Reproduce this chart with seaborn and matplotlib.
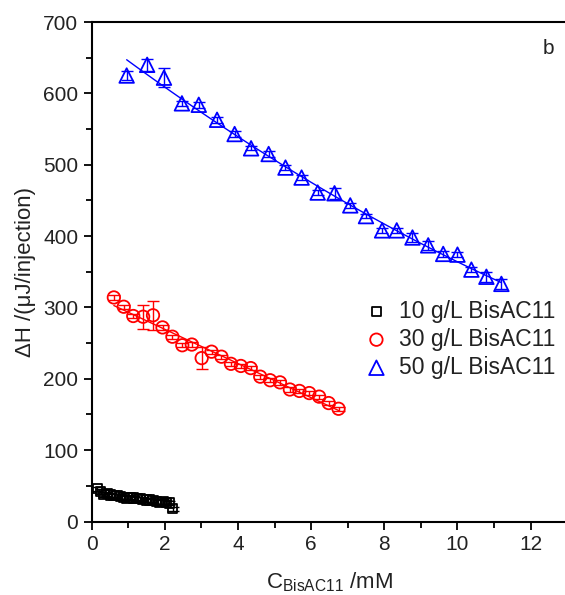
import numpy as np
import pandas as pd
import matplotlib
matplotlib.use("Agg")
import matplotlib.pyplot as plt
import seaborn as sns
from matplotlib.ticker import MultipleLocator

# ---- data ----
x10 = [0.16, 0.25, 0.34, 0.43, 0.52, 0.61, 0.70, 0.79, 0.88, 0.97, 1.06, 1.15,
       1.24, 1.33, 1.41, 1.50, 1.59, 1.68, 1.77, 1.86, 1.95, 2.04, 2.13, 2.22]
y10 = [46, 42, 38, 39, 37, 36, 36, 35, 34, 33, 34, 33,
       32, 32, 31, 30, 30, 29, 28, 27, 28, 27, 26, 18]
e10 = [3] * 24

x30 = [0.61, 0.88, 1.14, 1.41, 1.68, 1.94, 2.21, 2.48, 2.74, 3.01, 3.28, 3.55,
       3.81, 4.08, 4.35, 4.61, 4.88, 5.15, 5.42, 5.68, 5.95, 6.22, 6.48, 6.75]
y30 = [314, 301, 288, 287, 289, 272, 259, 247, 248, 229, 238, 231,
       221, 218, 215, 203, 198, 195, 185, 183, 180, 175, 166, 158]
e30 = [3, 3, 3, 17, 20, 3, 3, 3, 3, 15, 3, 3,
       3, 3, 3, 3, 3, 3, 3, 3, 3, 3, 3, 3]

x50 = [0.96, 1.52, 1.98, 2.47, 2.93, 3.43, 3.91, 4.36, 4.84, 5.30, 5.74, 6.18,
       6.64, 7.07, 7.50, 7.94, 8.34, 8.77, 9.20, 9.61, 10.00, 10.38, 10.79, 11.20]
y50 = [625, 640, 622, 586, 584, 563, 543, 523, 515, 496, 482, 461,
       460, 443, 428, 408, 408, 398, 387, 375, 374, 353, 343, 333]
e50 = [6, 8, 13, 4, 4, 4, 4, 3, 4, 4, 4, 4,
       8, 3, 3, 4, 4, 6, 6, 4, 4, 4, 7, 7]

labels = ["10 g/L BisAC11", "30 g/L BisAC11", "50 g/L BisAC11"]
colors = ["#000000", "#ff0000", "#0000ff"]

# ---- style ----
sns.set_theme(style="ticks")
plt.rcParams["font.family"] = ["Liberation Sans", "DejaVu Sans"]
plt.rcParams["mathtext.fontset"] = "custom"
plt.rcParams["mathtext.rm"] = "Liberation Sans"
plt.rcParams["mathtext.it"] = "Liberation Sans"
FS = 15
LFS = 16.5

fig = plt.figure(figsize=(5.65, 5.95), dpi=100)
ax = fig.add_axes([0.162, 0.1235, 0.842, 0.8395])

series = [
    (x10, y10, e10, "s", 45, None),
    (x30, y30, e30, "o", 80, 1),
    (x50, y50, e50, "^", 110, 2),
]
for (xs, ys, es, mk, s, order), lab, col in zip(series, labels, colors):
    df = pd.DataFrame({"x": xs, "y": ys})
    ax.errorbar(xs, ys, yerr=es, fmt="none", ecolor=col, elinewidth=1.0,
                capsize=4, capthick=1.0, zorder=2)
    sns.scatterplot(data=df, x="x", y="y", marker=mk, s=s, facecolor="none",
                    edgecolor=col, linewidth=1.3, label=lab, ax=ax, zorder=3)
    if order is not None:
        sns.regplot(data=df, x="x", y="y", order=order, ci=None, scatter=False,
                    color=col, line_kws={"lw": 1.0}, ax=ax, truncate=True)

ax.set_xlim(0, 13.0)
ax.set_ylim(0, 700)
ax.xaxis.set_major_locator(MultipleLocator(2))
ax.xaxis.set_minor_locator(MultipleLocator(1))
ax.yaxis.set_major_locator(MultipleLocator(100))
ax.yaxis.set_minor_locator(MultipleLocator(50))
ax.tick_params(which="major", direction="out", length=6, width=1.3,
               labelsize=FS, color="black", labelcolor="#222222")
ax.tick_params(which="minor", direction="out", length=4, width=1.3, color="black")
ax.tick_params(top=False, right=False, which="both")
for sp in ax.spines.values():
    sp.set_linewidth(1.5)
    sp.set_color("black")

ax.set_xlabel(r"C$_{\mathrm{BisAC11}}$ /mM", fontsize=16, color="#222222", labelpad=12)
ax.set_ylabel("ΔH /(μJ/injection)", fontsize=16, color="#222222", labelpad=5)

ax.text(0.972, 0.965, "b", transform=ax.transAxes, ha="right", va="top",
        fontsize=FS, color="#222222")

leg = ax.legend(loc="center right", bbox_to_anchor=(0.995, 0.365), frameon=False,
                fontsize=LFS, handletextpad=0.4, labelspacing=0.22,
                borderaxespad=0.0, handlelength=1.2)
for t in leg.get_texts():
    t.set_color("#222222")

fig.savefig("out.png", dpi=100)
